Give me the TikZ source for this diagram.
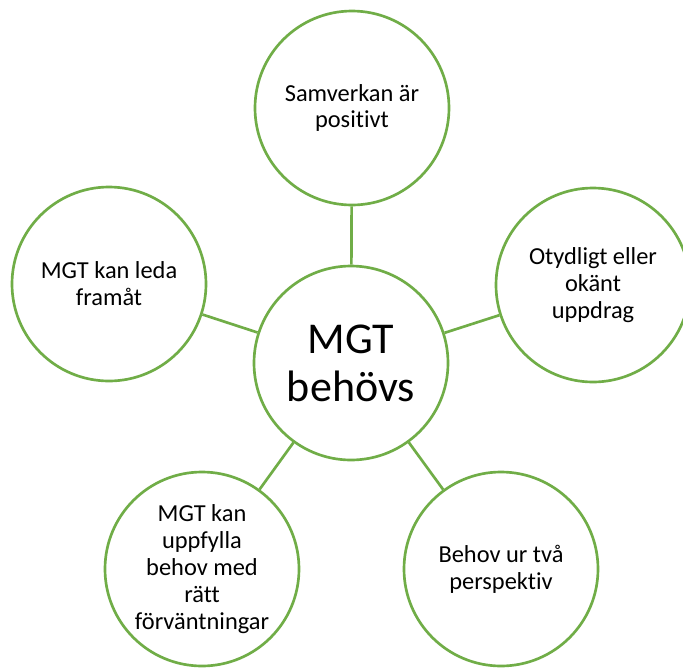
\documentclass[tikz,border=0pt]{standalone}
\usepackage{fontspec}
\setmainfont{Carlito}[Ligatures=NoCommon]
\usepackage{tikz}
\usetikzlibrary{positioning}

\definecolor{leafgreen}{HTML}{70AD47}

\begin{document}
\begin{tikzpicture}[x=0.75pt, y=-0.75pt,
    bubble/.style={circle, draw=leafgreen, line width=2pt, fill=white,
      minimum size=145.5pt, inner sep=0pt, align=center,
      font=\fontsize{18.3}{20.2}\selectfont},
    spoke/.style={draw=leafgreen, line width=2pt}]
  \useasboundingbox (0,0) rectangle (683,668);
  % centre
  \node[bubble, font=\fontsize{33}{36}\selectfont] (mgt) at (351,363) {MGT\\behövs};
  % outer circles
  \node[bubble] (samverkan) at (352,108) {Samverkan är\\positivt};
  \node[bubble] (leda) at (109,284) {MGT kan leda\\framåt};
  \node[bubble] (uppdrag) at (593,285) {Otydligt eller\\okänt\\uppdrag};
  \node[bubble] (uppfylla) at (202,569) {MGT kan\\uppfylla\\behov med\\rätt\\förväntningar};
  \node[bubble] (perspektiv) at (501,569) {Behov ur två\\perspektiv};
  % spokes
  \foreach \n in {samverkan,leda,uppdrag,uppfylla,perspektiv}
    \draw[spoke] (mgt) -- (\n);
\end{tikzpicture}
\end{document}
